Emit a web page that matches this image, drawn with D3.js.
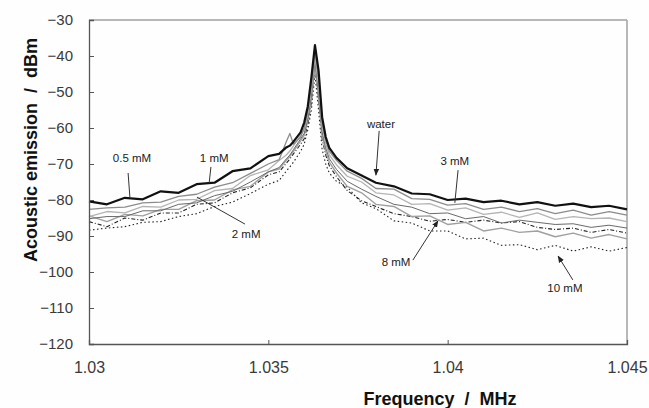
<!DOCTYPE html>
<html><head><meta charset="utf-8">
<script src="https://cdn.jsdelivr.net/npm/d3@7"></script>
<style>
html,body{margin:0;padding:0;background:#fff;}
svg{display:block;}
text{font-family:"Liberation Sans",Arial,sans-serif;}
</style></head>
<body>
<svg id="chart" width="649" height="408"></svg>
<script>
// ---- data ----
const freq = [1.0300,1.0305,1.0310,1.0315,1.0320,1.0325,1.0330,1.0335,1.0340,1.0345,1.0350,1.0353,1.0355,1.0356,1.0357,1.0359,1.0360,1.0361,1.0362,1.0363,1.0364,1.0365,1.0366,1.0367,1.0369,1.0372,1.0376,1.0380,1.0385,1.0390,1.0395,1.0400,1.0405,1.0410,1.0415,1.0420,1.0425,1.0430,1.0435,1.0440,1.0445,1.0450];

const water = [-80.4,-81.2,-79.4,-79.8,-77.6,-78.0,-75.6,-75.2,-72.0,-71.2,-67.8,-67.2,-65.4,-64.9,-63.8,-61.2,-58.5,-54.0,-46.0,-37.0,-44.0,-57.0,-62.5,-65.5,-68.3,-71.2,-73.2,-75.2,-76.2,-78.2,-78.4,-80.0,-79.6,-80.6,-80.2,-81.2,-80.6,-81.6,-81.0,-82.0,-81.6,-82.6];
const mM05 = [-82.6,-82.2,-82.0,-80.8,-80.6,-79.0,-78.4,-76.4,-75.2,-72.6,-70.0,-68.8,-63.8,-61.5,-64.5,-62.5,-60.0,-55.5,-48.0,-38.5,-46.0,-58.5,-63.5,-66.5,-69.0,-72.0,-74.0,-76.8,-77.0,-79.6,-79.8,-81.4,-81.0,-82.6,-82.0,-83.2,-82.4,-83.8,-82.8,-84.2,-83.2,-84.2];
const mM1 = [-84.6,-83.2,-83.6,-81.8,-82.0,-80.0,-79.8,-77.4,-76.8,-73.2,-71.6,-69.0,-67.5,-66.4,-65.0,-62.0,-60.5,-56.0,-49.0,-40.0,-48.0,-59.5,-64.5,-67.5,-70.2,-73.4,-75.0,-78.0,-78.6,-81.2,-81.0,-82.8,-82.2,-84.0,-83.4,-84.8,-83.6,-85.4,-84.6,-85.2,-85.0,-86.0];
const mM2 = [-85.2,-84.6,-84.6,-83.0,-83.0,-81.2,-80.8,-78.8,-77.6,-75.0,-72.2,-71.0,-68.6,-67.5,-66.0,-63.0,-61.5,-57.5,-51.0,-41.0,-50.0,-61.0,-65.5,-68.5,-71.5,-74.8,-77.0,-79.0,-81.2,-82.0,-83.8,-83.6,-85.2,-84.6,-86.4,-85.6,-86.2,-86.8,-86.6,-87.6,-87.0,-87.8];
const mM3 = [-84.4,-86.0,-84.0,-84.4,-82.6,-82.6,-80.2,-80.0,-77.2,-76.2,-72.2,-71.4,-69.0,-67.9,-66.5,-63.6,-62.0,-58.0,-52.0,-43.0,-51.0,-62.0,-66.5,-69.5,-72.5,-76.2,-78.0,-81.2,-81.8,-84.6,-84.4,-86.8,-86.2,-88.6,-87.8,-89.0,-88.6,-90.2,-89.2,-90.6,-89.6,-90.8];
const mM8 = [-86.0,-87.4,-85.0,-85.6,-83.6,-83.6,-81.2,-80.8,-78.0,-76.6,-73.0,-72.2,-69.8,-68.6,-67.2,-64.5,-63.0,-59.0,-53.0,-42.0,-52.0,-63.0,-67.5,-70.5,-73.5,-77.4,-80.2,-81.8,-83.8,-84.6,-85.9,-85.4,-86.2,-85.6,-86.4,-86.0,-87.6,-88.2,-87.8,-89.0,-88.2,-89.2];
const mM10 = [-88.4,-87.8,-87.4,-86.2,-86.0,-84.6,-83.8,-81.8,-80.6,-78.2,-75.6,-74.6,-72.0,-70.8,-69.5,-66.5,-64.5,-60.5,-55.0,-45.0,-55.0,-66.0,-70.0,-72.5,-74.8,-76.4,-80.8,-82.4,-85.8,-86.4,-88.6,-88.6,-90.8,-90.6,-92.6,-92.4,-93.8,-92.6,-94.2,-93.0,-94.2,-93.2];

const xTicks = [1.03, 1.035, 1.04, 1.045];
const xTickLabels = ["1.03", "1.035", "1.04", "1.045"];
const yTicks = [-30,-40,-50,-60,-70,-80,-90,-100,-110,-120];

// annotation anchors in data units: text position, leader start, leader end
const annText = ["0.5 mM","1 mM","2 mM","water","3 mM","8 mM","10 mM"];
const annTextF = [1.03120,1.03349,1.03438,1.03814,1.04020,1.03856,1.04327];
const annTextV = [-69.4,-69.4,-90.6,-60.0,-70.3,-98.3,-105.6];
const annFromF = [1.03109,1.03340,1.03435,1.03809,1.04029,1.03903,1.04349];
const annFromV = [-72.5,-70.8,-86.7,-60.8,-71.7,-96.7,-102.2];
const annToF   = [1.03114,1.03335,1.03301,1.03800,1.04020,1.03973,1.04308];
const annToV   = [-79.2,-75.3,-79.2,-73.1,-80.8,-85.8,-95.6];
const annArrow = [false,false,false,true,false,true,true];

// ---- chart ----
const svg = d3.select("#chart");
const x = d3.scaleLinear().domain([1.03,1.045]).range([89,627]);
const y = d3.scaleLinear().domain([-120,-30]).range([344,20]);

svg.append("rect").attr("width",649).attr("height",408).attr("fill","#fefefe");

// frame top/right
svg.append("line").attr("x1",x(1.03)).attr("x2",x(1.045)).attr("y1",y(-30)).attr("y2",y(-30))
  .attr("stroke","#a0a0a0").attr("stroke-width",1.5);
svg.append("line").attr("x1",x(1.045)).attr("x2",x(1.045)).attr("y1",y(-30)).attr("y2",y(-120))
  .attr("stroke","#a0a0a0").attr("stroke-width",1.5);

const series = [
  {name:"water", v:water, color:"#111", w:2.2, dash:null},
  {name:"0.5 mM", v:mM05, color:"#8c8c8c", w:1.3, dash:null},
  {name:"1 mM", v:mM1, color:"#b4b4b4", w:1.3, dash:null},
  {name:"2 mM", v:mM2, color:"#6a6a6a", w:1.0, dash:null},
  {name:"3 mM", v:mM3, color:"#a0a0a0", w:1.4, dash:null},
  {name:"8 mM", v:mM8, color:"#222", w:1.1, dash:"4,2,1,2"},
  {name:"10 mM", v:mM10, color:"#222", w:1.1, dash:"1.5,2.5"}
];

const line = d3.line().x((d,i)=>x(freq[i])).y(d=>y(d));
const g = svg.append("g");
series.slice().reverse().forEach(s=>{
  g.append("path").datum(s.v).attr("d",line).attr("fill","none")
    .attr("stroke",s.color).attr("stroke-width",s.w)
    .attr("stroke-dasharray",s.dash).attr("stroke-linejoin","round");
});

// axes
const yAxis = d3.axisLeft(y).tickValues(yTicks).tickSize(-5).tickPadding(16);
const ya = svg.append("g").attr("transform",`translate(${x(1.03)},0)`).call(yAxis);
ya.select(".domain").attr("stroke","#555").attr("stroke-width",1.3);
ya.selectAll(".tick line").attr("stroke","#555");
ya.selectAll("text").attr("font-size",15).attr("fill","#3a3a3a").attr("font-family","Liberation Sans, Arial, sans-serif");

const xAxis = d3.axisBottom(x).tickValues(xTicks).tickSize(-4).tickPadding(17.5)
  .tickFormat((d,i)=>xTickLabels[i]);
const xa = svg.append("g").attr("transform",`translate(0,${y(-120)})`).call(xAxis);
xa.select(".domain").attr("stroke","#555").attr("stroke-width",1.3);
xa.selectAll(".tick line").attr("stroke","#555");
xa.selectAll("text").attr("font-size",16).attr("fill","#3a3a3a").attr("font-family","Liberation Sans, Arial, sans-serif");

// titles
svg.append("text").attr("transform","translate(37,150) rotate(-90)")
  .attr("text-anchor","middle").attr("font-size",18).attr("font-weight","bold").attr("fill","#111")
  .style("white-space","pre")
  .text("Acoustic emission  /  dBm");
svg.append("text").attr("x",440).attr("y",405)
  .attr("text-anchor","middle").attr("font-size",18).attr("font-weight","bold").attr("fill","#111")
  .style("white-space","pre")
  .text("Frequency  /  MHz");

// annotations
const defs = svg.append("defs");
defs.append("marker").attr("id","ah").attr("viewBox","0 0 10 10").attr("refX",9).attr("refY",5)
  .attr("markerWidth",7).attr("markerHeight",7).attr("orient","auto")
  .append("path").attr("d","M0,1 L10,5 L0,9 Z").attr("fill","#222");

const ann = svg.append("g");
annText.forEach((t,i)=>{
  ann.append("line").attr("x1",x(annFromF[i])).attr("y1",y(annFromV[i]))
    .attr("x2",x(annToF[i])).attr("y2",y(annToV[i]))
    .attr("stroke","#333").attr("stroke-width",1)
    .attr("marker-end",annArrow[i]?"url(#ah)":null);
  ann.append("text").attr("x",x(annTextF[i])).attr("y",y(annTextV[i]))
    .attr("text-anchor","middle").attr("font-size",11.5).attr("fill","#222").text(t);
});
</script>
</body></html>
